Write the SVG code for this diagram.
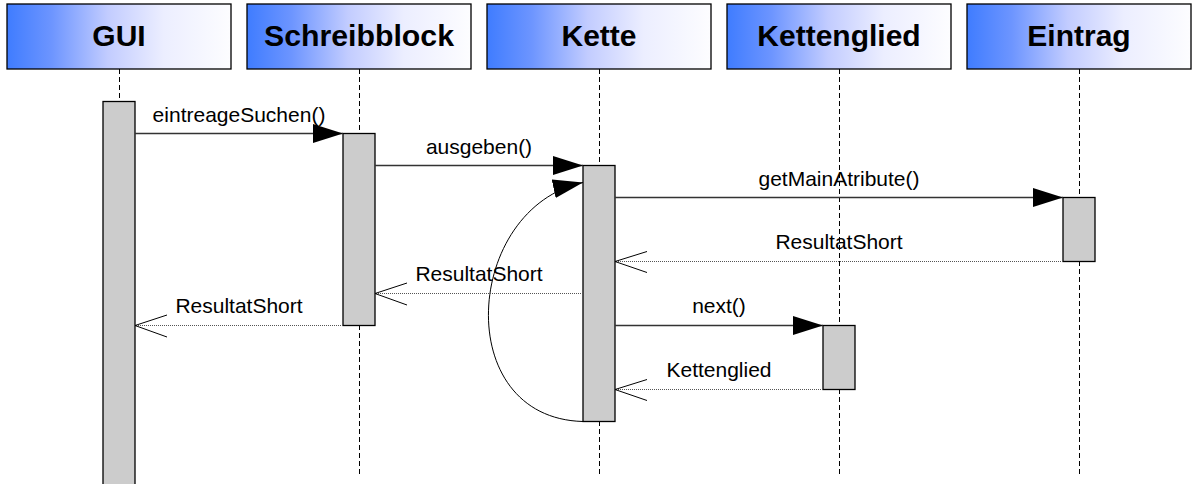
<svg xmlns="http://www.w3.org/2000/svg" width="1192" height="484" viewBox="0 0 1192 484">
<defs>
<linearGradient id="hdr" x1="0" y1="0" x2="1" y2="0">
<stop offset="0" stop-color="#3f7cff"/>
<stop offset="0.2" stop-color="#6d95ff"/>
<stop offset="0.45" stop-color="#c2ccff"/>
<stop offset="0.7" stop-color="#eceeff"/>
<stop offset="1" stop-color="#fdfdff"/>
</linearGradient>
<marker id="filled" markerUnits="userSpaceOnUse" markerWidth="32" markerHeight="22" refX="30" refY="9.5" orient="auto">
<path d="M0,0 L30,9.5 L0,19 z" fill="#000"/>
</marker>
</defs>
<style>
.hbox{fill:url(#hdr);stroke:#000;stroke-width:1.3}
.htxt{font-family:"Liberation Sans",Arial,sans-serif;font-weight:bold;font-size:30px;text-anchor:middle;fill:#000}
.life{stroke:#000;stroke-width:1;stroke-dasharray:5,3;fill:none}
.bar{fill:#cccccc;stroke:#000;stroke-width:1.3}
.msg{stroke:#333;stroke-width:1.3;fill:none}
.ret{stroke:#555;stroke-width:1;stroke-dasharray:1,1;fill:none}
.open{stroke:#000;stroke-width:1;fill:none}
.lbl{font-family:"Liberation Sans",Arial,sans-serif;font-size:21px;text-anchor:middle;fill:#000}
</style>
<g id="GUI">
<rect class="hbox" x="7" y="4" width="224" height="65"/>
<text class="htxt" x="119" y="46">GUI</text>
<line class="life" x1="119.5" y1="69" x2="119.5" y2="484"/>
<rect class="bar" x="103" y="101.5" width="32" height="390"/>
</g>
<g id="Schreibblock">
<rect class="hbox" x="247" y="4" width="224" height="65"/>
<text class="htxt" x="359" y="46" textLength="190" lengthAdjust="spacingAndGlyphs">Schreibblock</text>
<line class="life" x1="359.5" y1="69" x2="359.5" y2="476"/>
<rect class="bar" x="343" y="133.5" width="32" height="192"/>
</g>
<g id="Kette">
<rect class="hbox" x="487" y="4" width="224" height="65"/>
<text class="htxt" x="599" y="46">Kette</text>
<line class="life" x1="599.5" y1="69" x2="599.5" y2="476"/>
<rect class="bar" x="583" y="165.5" width="32" height="256"/>
</g>
<g id="Kettenglied">
<rect class="hbox" x="727" y="4" width="224" height="65"/>
<text class="htxt" x="839" y="46">Kettenglied</text>
<line class="life" x1="839.5" y1="69" x2="839.5" y2="476"/>
<rect class="bar" x="823" y="325.5" width="32" height="64"/>
</g>
<g id="Eintrag">
<rect class="hbox" x="967" y="4" width="224" height="65"/>
<text class="htxt" x="1079" y="46">Eintrag</text>
<line class="life" x1="1079.5" y1="69" x2="1079.5" y2="476"/>
<rect class="bar" x="1063" y="197.5" width="32" height="64"/>
</g>
<g id="connectors">
<line class="msg" x1="135" y1="133.5" x2="343" y2="133.5" marker-end="url(#filled)"/>
<text class="lbl" x="239" y="122">eintreageSuchen()</text>
<line class="msg" x1="375" y1="165.5" x2="583" y2="165.5" marker-end="url(#filled)"/>
<text class="lbl" x="479" y="154">ausgeben()</text>
<path class="open" d="M583,421.5 C450,418 464,208 583,182.5" marker-end="url(#filled)"/>
<line class="msg" x1="615" y1="197.5" x2="1063" y2="197.5" marker-end="url(#filled)"/>
<text class="lbl" x="839" y="186">getMainAtribute()</text>
<line class="ret" x1="1063" y1="261.5" x2="615" y2="261.5"/>
<polyline class="open" points="647,251.5 615,261.5 647,272.5"/>
<text class="lbl" x="839" y="249">ResultatShort</text>
<line class="ret" x1="583" y1="293.5" x2="375" y2="293.5"/>
<polyline class="open" points="407,283 375,293.5 407,305"/>
<text class="lbl" x="479" y="281">ResultatShort</text>
<line class="ret" x1="343" y1="325.5" x2="135" y2="325.5"/>
<polyline class="open" points="167,315 135,325.5 167,337"/>
<text class="lbl" x="239" y="313">ResultatShort</text>
<line class="msg" x1="615" y1="325.5" x2="823" y2="325.5" marker-end="url(#filled)"/>
<text class="lbl" x="719" y="313">next()</text>
<line class="ret" x1="823" y1="389.5" x2="615" y2="389.5"/>
<polyline class="open" points="647,379.5 615,389.5 647,400.5"/>
<text class="lbl" x="719" y="377">Kettenglied</text>
</g>
</svg>
